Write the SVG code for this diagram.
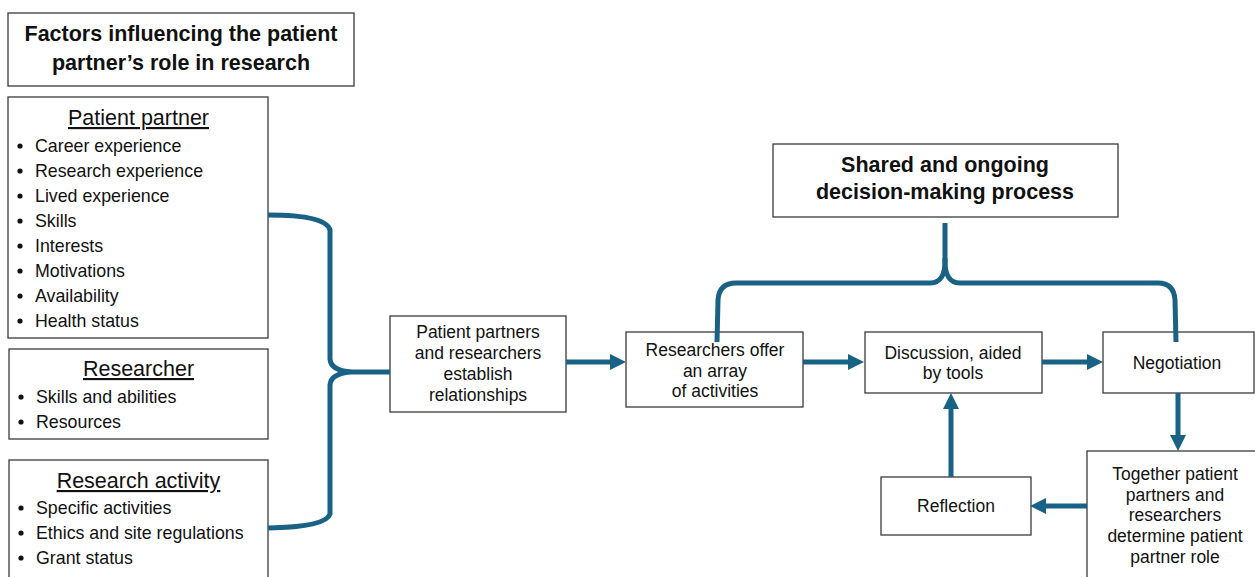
<svg xmlns="http://www.w3.org/2000/svg" width="1255" height="577" viewBox="0 0 1255 577">
<style>
.box{fill:#fff;stroke:#3a3a3a;stroke-width:1.3}
.t{font-family:"Liberation Sans",Arial,sans-serif;font-size:17.5px;fill:#111}
.li{font-family:"Liberation Sans",Arial,sans-serif;font-size:17.8px;fill:#111}
.h{font-family:"Liberation Sans",Arial,sans-serif;font-size:21.5px;fill:#111;text-decoration:underline}
.b{font-family:"Liberation Sans",Arial,sans-serif;font-size:21.5px;font-weight:bold;fill:#111}
.c{text-anchor:middle}
.dot{fill:#111}
.con{fill:none;stroke:#1a6285;stroke-width:5}
</style>
<defs>
<marker id="ah" markerUnits="userSpaceOnUse" markerWidth="16" markerHeight="16" refX="6" refY="8" orient="auto">
<path d="M0,0 L16,8 L0,16 z" fill="#1a6285"/>
</marker>
</defs>

<g id="title">
<rect class="box" x="8" y="13" width="346" height="73"/>
<text class="b c" x="181" y="41">Factors influencing the patient</text>
<text class="b c" x="181" y="70">partner’s role in research</text>
</g>

<g id="patient-partner">
<rect class="box" x="8" y="97" width="260" height="241"/>
<text class="h c" x="138.5" y="125">Patient partner</text>
<g class="dot">
<circle cx="20" cy="146" r="2.6"/><circle cx="20" cy="171" r="2.6"/><circle cx="20" cy="196" r="2.6"/><circle cx="20" cy="221" r="2.6"/>
<circle cx="20" cy="246" r="2.6"/><circle cx="20" cy="271" r="2.6"/><circle cx="20" cy="296" r="2.6"/><circle cx="20" cy="321" r="2.6"/>
</g>
<text class="li" x="35" y="152">Career experience</text>
<text class="li" x="35" y="177">Research experience</text>
<text class="li" x="35" y="202">Lived experience</text>
<text class="li" x="35" y="227">Skills</text>
<text class="li" x="35" y="252">Interests</text>
<text class="li" x="35" y="277">Motivations</text>
<text class="li" x="35" y="302">Availability</text>
<text class="li" x="35" y="327">Health status</text>
</g>

<g id="researcher">
<rect class="box" x="9" y="349" width="259" height="90"/>
<text class="h c" x="138.5" y="376">Researcher</text>
<circle class="dot" cx="21" cy="397" r="2.6"/><circle class="dot" cx="21" cy="422" r="2.6"/>
<text class="li" x="36" y="403">Skills and abilities</text>
<text class="li" x="36" y="428">Resources</text>
</g>

<g id="research-activity">
<rect class="box" x="9" y="460" width="259" height="125"/>
<text class="h c" x="138.5" y="488">Research activity</text>
<circle class="dot" cx="21" cy="508" r="2.6"/><circle class="dot" cx="21" cy="533" r="2.6"/><circle class="dot" cx="21" cy="558" r="2.6"/>
<text class="li" x="36" y="514">Specific activities</text>
<text class="li" x="36" y="539">Ethics and site regulations</text>
<text class="li" x="36" y="564">Grant status</text>
</g>

<g id="establish">
<rect class="box" x="390" y="316" width="176" height="96"/>
<text class="t c" x="478" y="338">Patient partners</text>
<text class="t c" x="478" y="359">and researchers</text>
<text class="t c" x="478" y="380">establish</text>
<text class="t c" x="478" y="401">relationships</text>
</g>

<g id="offer">
<rect class="box" x="626" y="332" width="177" height="75"/>
<text class="t c" x="715" y="356">Researchers offer</text>
<text class="t c" x="715" y="377">an array</text>
<text class="t c" x="715" y="397">of activities</text>
</g>

<g id="discussion">
<rect class="box" x="865" y="332" width="177" height="61"/>
<text class="t c" x="953" y="359">Discussion, aided</text>
<text class="t c" x="953" y="379">by tools</text>
</g>

<g id="negotiation">
<rect class="box" x="1103" y="332" width="151" height="61"/>
<text class="t c" x="1177" y="369">Negotiation</text>
</g>

<g id="shared">
<rect class="box" x="773" y="144" width="345" height="73"/>
<text class="b c" x="945" y="172">Shared and ongoing</text>
<text class="b c" x="945" y="199">decision-making process</text>
</g>

<g id="determine">
<rect class="box" x="1087" y="451" width="175" height="135"/>
<text class="t c" x="1175" y="480">Together patient</text>
<text class="t c" x="1175" y="501">partners and</text>
<text class="t c" x="1175" y="521">researchers</text>
<text class="t c" x="1175" y="542">determine patient</text>
<text class="t c" x="1175" y="563">partner role</text>
</g>

<g id="reflection">
<rect class="box" x="881" y="477" width="150" height="58"/>
<text class="t c" x="956" y="512">Reflection</text>
</g>

<g id="connectors">
<path class="con" d="M268,215 Q326,215 330,230 V359 Q331,371 352,372 H390 M352,372 Q331,373 330,385 V514 Q326,527 268,528"/>
<path class="con" d="M945,223 V258 Q946,283 930,283 H736 Q719,283 718,300 L717,342"/>
<path class="con" d="M945,258 Q944,283 960,283 H1158 Q1174,283 1175,300 L1176,342"/>
<line class="con" x1="566" y1="362" x2="616" y2="362" marker-end="url(#ah)"/>
<line class="con" x1="803" y1="362" x2="854" y2="362" marker-end="url(#ah)"/>
<line class="con" x1="1042" y1="362" x2="1093" y2="362" marker-end="url(#ah)"/>
<line class="con" x1="1178" y1="393" x2="1178" y2="441" marker-end="url(#ah)"/>
<line class="con" x1="1087" y1="506" x2="1040" y2="506" marker-end="url(#ah)"/>
<line class="con" x1="951" y1="477" x2="951" y2="403" marker-end="url(#ah)"/>
</g>
</svg>
